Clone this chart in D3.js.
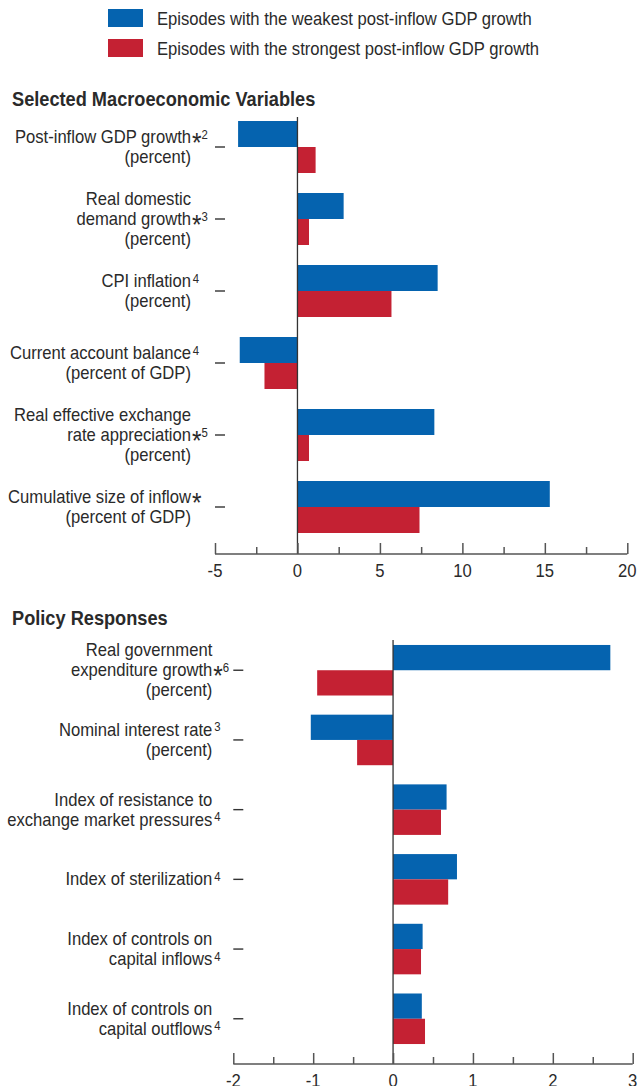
<!DOCTYPE html>
<html>
<head>
<meta charset="utf-8">
<script src="https://cdn.jsdelivr.net/npm/d3@7"></script>
<style>
  html, body { margin: 0; padding: 0; background: #fff; }
  svg { display: block; }
  text { font-family: "Liberation Sans", Arial, sans-serif; fill: #2a2a2a; }
</style>
</head>
<body>
<script>
// ---------------- DATA ----------------
const seriesNames = [
  "Episodes with the weakest post-inflow GDP growth",
  "Episodes with the strongest post-inflow GDP growth"
];
const seriesKeys = ["weakest", "strongest"];
const seriesColors = ["#0563AF", "#C42133"];

const macroTitle = "Selected Macroeconomic Variables";
const macroCategories = [
  "Post-inflow GDP growth",
  "Real domestic demand growth",
  "CPI inflation",
  "Current account balance",
  "Real effective exchange rate appreciation",
  "Cumulative size of inflow"
];
// each label line: [main text, star, superscript]
const macroLabels = [
  [["Post-inflow GDP growth", "*", "2"], ["(percent)"]],
  [["Real domestic"], ["demand growth", "*", "3"], ["(percent)"]],
  [["CPI inflation", "", "4"], ["(percent)"]],
  [["Current account balance", "", "4"], ["(percent of GDP)"]],
  [["Real effective exchange"], ["rate appreciation", "*", "5"], ["(percent)"]],
  [["Cumulative size of inflow", "*", ""], ["(percent of GDP)"]]
];
const macroWeakest   = [-3.6, 2.8, 8.5, -3.5, 8.3, 15.3];
const macroStrongest = [1.1, 0.7, 5.7, -2.0, 0.7, 7.4];
const macroTicks = [-5, 0, 5, 10, 15, 20];
const macroMinorTicks = [-2.5, 2.5, 7.5, 12.5, 17.5];

const policyTitle = "Policy Responses";
const policyCategories = [
  "Real government expenditure growth",
  "Nominal interest rate",
  "Index of resistance to exchange market pressures",
  "Index of sterilization",
  "Index of controls on capital inflows",
  "Index of controls on capital outflows"
];
const policyLabels = [
  [["Real government"], ["expenditure growth", "*", "6"], ["(percent)"]],
  [["Nominal interest rate", "", "3"], ["(percent)"]],
  [["Index of resistance to"], ["exchange market pressures", "", "4"]],
  [["Index of sterilization", "", "4"]],
  [["Index of controls on"], ["capital inflows", "", "4"]],
  [["Index of controls on"], ["capital outflows", "", "4"]]
];
const policyWeakest   = [2.72, -1.03, 0.67, 0.80, 0.37, 0.36];
const policyStrongest = [-0.95, -0.45, 0.60, 0.69, 0.35, 0.40];
const policyTicks = [-2, -1, 0, 1, 2, 3];
const policyMinorTicks = [-1.5, -0.5, 0.5, 1.5, 2.5];

// ---------------- DRAW ----------------
const W = 644, H = 1086;
const FS = 19, SX = 0.875;          // condensed look via horizontal scaling
const svg = d3.select("body").append("svg").attr("width", W).attr("height", H);

function addText(parent, x, y, str, size, sx, anchor) {
  return parent.append("text")
    .attr("transform", `translate(${x},${y}) scale(${sx},1)`)
    .attr("text-anchor", anchor || "start")
    .attr("font-size", size)
    .text(str);
}

// Legend
const legend = svg.append("g");
seriesNames.forEach((name, i) => {
  legend.append("rect").attr("x", 108).attr("y", 9 + i * 30)
    .attr("width", 35).attr("height", 18).attr("fill", seriesColors[i]);
  addText(legend, 157, 25 + i * 30, name, FS, SX);
});

function panel(cfg) {
  const g = svg.append("g");
  addText(g, 12, cfg.titleY, cfg.title, 20, 0.91)
    .attr("font-weight", "bold").attr("fill", "#222");

  const x = d3.scaleLinear().domain(cfg.domain).range(cfg.xRange);
  const y = d3.scaleBand().domain(cfg.categories).range(cfg.yRange)
    .paddingInner(cfg.padInner).paddingOuter(cfg.padOuter);
  const ySub = d3.scaleBand().domain(seriesKeys).range([0, y.bandwidth()]);

  const rows = cfg.categories.map((c, i) => ({
    cat: c, weakest: cfg.weakest[i], strongest: cfg.strongest[i], label: cfg.labels[i]
  }));

  // bars
  const grp = g.append("g").selectAll("g").data(rows).join("g")
    .attr("transform", d => `translate(0,${y(d.cat)})`);
  grp.selectAll("rect").data(d => seriesKeys.map((k, j) => ({ k, v: d[k], j })))
    .join("rect")
    .attr("x", d => x(Math.min(0, d.v)))
    .attr("width", d => Math.abs(x(d.v) - x(0)))
    .attr("y", d => ySub(d.k))
    .attr("height", ySub.bandwidth())
    .attr("fill", d => seriesColors[d.j]);

  // zero line
  g.append("line").attr("x1", x(0)).attr("x2", x(0))
    .attr("y1", cfg.zeroTop).attr("y2", cfg.axisY)
    .attr("stroke", "#333").attr("stroke-width", 1.3);

  // x axis
  const axisG = g.append("g").attr("transform", `translate(0,${cfg.axisY})`);
  axisG.call(d3.axisTop(x).tickValues(cfg.ticks).tickSize(11).tickFormat(""))
    .call(a => a.select(".domain").remove());
  axisG.selectAll(".tick line").attr("stroke", "#555").attr("stroke-width", 1.5);
  const minorG = g.append("g").attr("transform", `translate(0,${cfg.axisY})`);
  minorG.call(d3.axisTop(x).tickValues(cfg.minorTicks).tickSize(7).tickFormat(""))
    .call(a => a.select(".domain").remove());
  minorG.selectAll(".tick line").attr("stroke", "#555").attr("stroke-width", 1.5);
  g.append("line").attr("x1", cfg.xRange[0]).attr("x2", cfg.xRange[1])
    .attr("y1", cfg.axisY).attr("y2", cfg.axisY)
    .attr("stroke", "#555").attr("stroke-width", 1.6);
  const tl = g.append("g");
  cfg.ticks.forEach(t => {
    addText(tl, x(t), cfg.axisY + 23, String(t), FS, SX, "middle").attr("fill", "#333");
  });

  // y axis (inward tick dashes only)
  const yAxisG = g.append("g").attr("transform", `translate(${cfg.xRange[0]},0)`);
  yAxisG.call(d3.axisLeft(y).tickSize(-10).tickFormat(""))
    .call(a => a.select(".domain").remove());
  yAxisG.selectAll(".tick line").attr("stroke", "#333").attr("stroke-width", 1.4);

  // category labels
  const lh = 20;
  rows.forEach(r => {
    const cy = y(r.cat) + y.bandwidth() / 2;
    const n = r.label.length;
    r.label.forEach((ln, i) => {
      const base = cy + (i - (n - 1) / 2) * lh + 6;
      const xr = cfg.xRange[0] - cfg.labelGap;
      addText(g, xr, base, ln[0], FS, SX, "end");
      if (ln[1] || ln[2]) {
        const t = g.append("text")
          .attr("transform", `translate(${xr + 1},${base}) scale(${SX},1)`)
          .attr("font-size", FS);
        if (ln[1]) t.append("tspan").attr("font-size", 28).attr("dy", 9).text(ln[1]);
        if (ln[2]) t.append("tspan").attr("font-size", 13)
          .attr("dy", ln[1] ? -13.5 : -4.5).attr("dx", ln[1] ? 0 : 1).text(ln[2]);
      }
    });
  });
}

panel({
  title: macroTitle, titleY: 106,
  categories: macroCategories, labels: macroLabels,
  weakest: macroWeakest, strongest: macroStrongest,
  domain: [-5, 20], xRange: [215, 627.3],
  ticks: macroTicks, minorTicks: macroMinorTicks,
  yRange: [111, 543], padInner: 20 / 72, padOuter: 10 / 72,
  zeroTop: 117, axisY: 554, labelGap: 24
});

panel({
  title: policyTitle, titleY: 625,
  categories: policyCategories, labels: policyLabels,
  weakest: policyWeakest, strongest: policyStrongest,
  domain: [-2, 3], xRange: [233.3, 632.7],
  ticks: policyTicks, minorTicks: policyMinorTicks,
  yRange: [635, 1054], padInner: 0.275, padOuter: 0.143,
  zeroTop: 640, axisY: 1064, labelGap: 21
});
</script>
</body>
</html>
